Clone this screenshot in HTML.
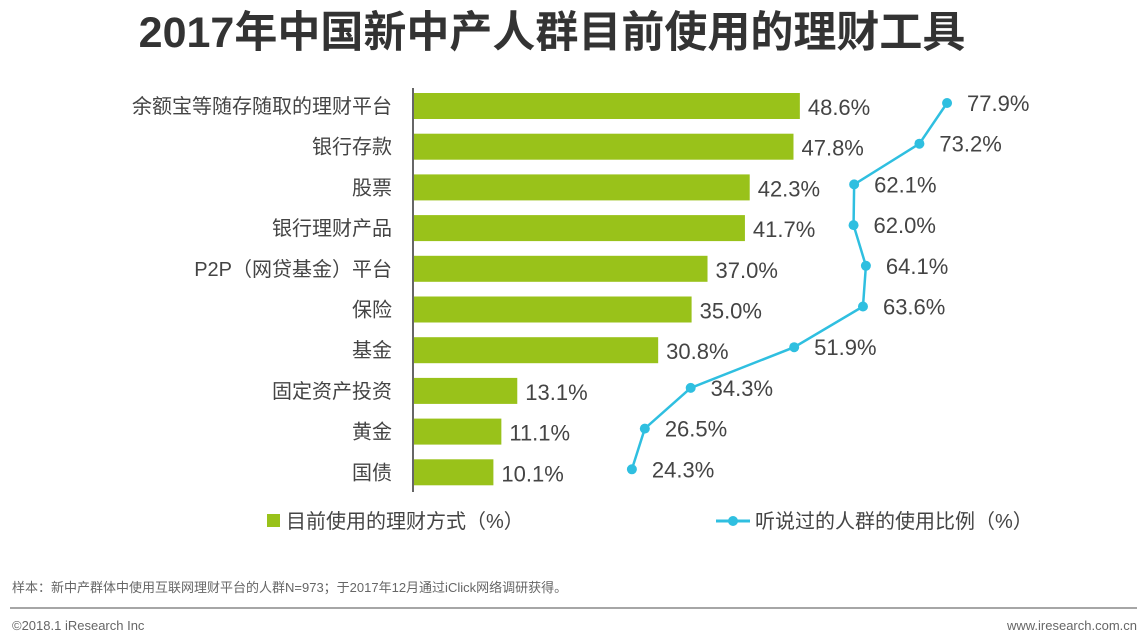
<!DOCTYPE html>
<html><head><meta charset="utf-8"><style>
body{margin:0;background:#fff;width:1147px;height:635px;overflow:hidden;font-family:"Liberation Sans","Noto Sans CJK SC",sans-serif}
</style></head><body>
<svg id="c" width="1147" height="635" xmlns="http://www.w3.org/2000/svg" font-family="Liberation Sans, Noto Sans CJK SC, sans-serif">
<text x="552" y="47" text-anchor="middle" font-size="43" font-weight="bold" fill="#333">2017年中国新中产人群目前使用的理财工具</text>
<line x1="413" y1="88" x2="413" y2="492" stroke="#333" stroke-width="1.5"/>
<g id="bars"></g><g id="line"></g>
<g>
<rect x="267" y="514" width="13" height="13" fill="#99c21a"/>
<text x="286" y="528" font-size="20" fill="#444">目前使用的理财方式（%）</text>
<line x1="716" y1="521" x2="750" y2="521" stroke="#2fbfe0" stroke-width="3"/>
<circle cx="733" cy="521" r="5" fill="#2fbfe0"/>
<text x="755" y="528" font-size="20" fill="#444">听说过的人群的使用比例（%）</text>
</g>
<text x="12" y="592" font-size="13" fill="#666">样本：新中产群体中使用互联网理财平台的人群N=973；于2017年12月通过iClick网络调研获得。</text>
<line x1="10" y1="608" x2="1137" y2="608" stroke="#888" stroke-width="1.5"/>
<text x="12" y="630" font-size="13" fill="#666">©2018.1 iResearch Inc</text>
<text x="1137" y="630" font-size="13" fill="#666" text-anchor="end">www.iresearch.com.cn</text>
</svg>
<script>
const categories=["余额宝等随存随取的理财平台","银行存款","股票","银行理财产品","P2P（网贷基金）平台","保险","基金","固定资产投资","黄金","国债"];
const barValues=[48.6,47.8,42.3,41.7,37.0,35.0,30.8,13.1,11.1,10.1];
const lineValues=[77.9,73.2,62.1,62.0,64.1,63.6,51.9,34.3,26.5,24.3];
const NS="http://www.w3.org/2000/svg";
const xb=v=>413+v*7.96, xl=v=>489+v*5.88, yc=i=>106+i*40.7;
function mk(t,a,p){const e=document.createElementNS(NS,t);for(const k in a)e.setAttribute(k,a[k]);p.appendChild(e);return e;}
const bars=document.getElementById('bars'),line=document.getElementById('line');
categories.forEach((c,i)=>{
 const y=yc(i);
 const l=mk('text',{x:392,y:y+7,'text-anchor':'end','font-size':20,fill:'#444'},bars);l.textContent=c;
 
 
 const r=mk('rect',{x:414,y:y-13,width:xb(barValues[i])-414,height:26,fill:'#99c21a'},bars);
 
 
 const t=mk('text',{x:xb(barValues[i])+8,y:y+9,'font-size':22,fill:'#444'},bars);t.textContent=barValues[i].toFixed(1)+'%';
 
 
});
const pts=lineValues.map((v,i)=>xl(v)+','+(yc(i)-3)).join(' ');
const pl=mk('polyline',{points:pts,fill:'none',stroke:'#2fbfe0','stroke-width':2.5},line);


lineValues.forEach((v,i)=>{
 const cx=xl(v),cy=yc(i)-3;
 const p=mk('circle',{cx:cx,cy:cy,r:5,fill:'#2fbfe0'},line);
 
 
 const t=mk('text',{x:cx+20,y:cy+8,'font-size':22,fill:'#444'},line);t.textContent=v.toFixed(1)+'%';
 
 
});
</script>
</body></html>
